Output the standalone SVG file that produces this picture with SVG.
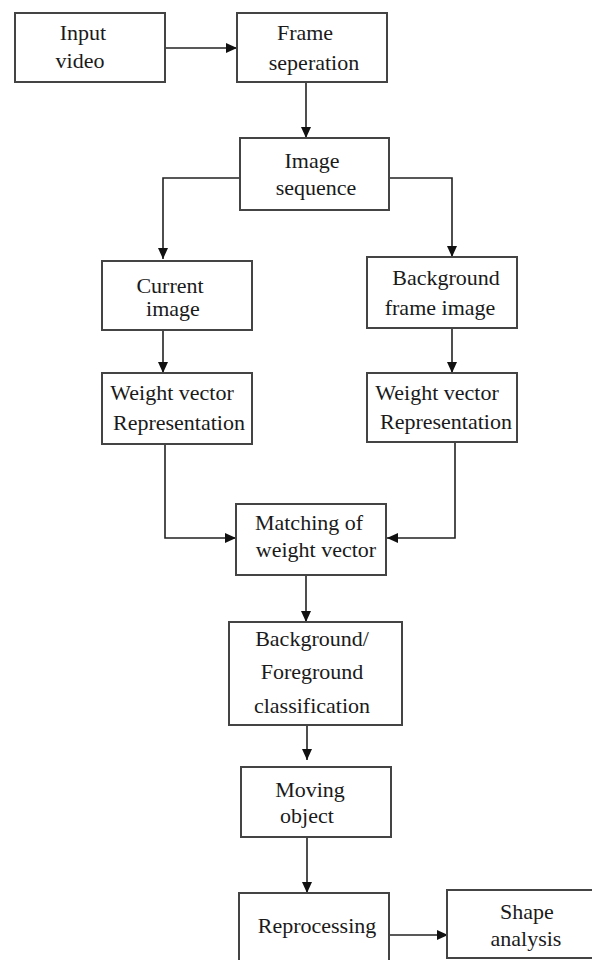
<svg xmlns="http://www.w3.org/2000/svg" width="592" height="960" viewBox="0 0 592 960">
<defs>
<marker id="ah" markerUnits="userSpaceOnUse" markerWidth="12" markerHeight="10" refX="11" refY="5" orient="auto">
<path d="M0,0 L11,5 L0,10 z" fill="#111"/>
</marker>
<style>
.box{fill:#fff;stroke:#444;stroke-width:2}
.t{font-family:"Liberation Serif","Times New Roman",serif;font-size:22px;fill:#1a1a1a;text-anchor:middle}
.c{fill:none;stroke:#222;stroke-width:1.6;marker-end:url(#ah)}
</style>
</defs>
<rect width="592" height="960" fill="#fff"/>
<g id="connectors">
<path class="c" d="M165,48 H237"/>
<path class="c" d="M306,82 V138"/>
<path class="c" d="M240,178 H163 V259"/>
<path class="c" d="M389,178 H452 V257"/>
<path class="c" d="M163,330 V373"/>
<path class="c" d="M452,328 V373"/>
<path class="c" d="M165,444 V538 H236"/>
<path class="c" d="M455,442 V538 H387"/>
<path class="c" d="M306,575 V622"/>
<path class="c" d="M307,725 V760"/>
<path class="c" d="M307,837 V893"/>
<path class="c" d="M389,935 H448"/>
</g>
<g id="input-video">
<rect class="box" x="15" y="13" width="150" height="69"/>
<text class="t" x="83" y="40">Input</text>
<text class="t" x="80" y="68">video</text>
</g>
<g id="frame-seperation">
<rect class="box" x="237" y="13" width="150" height="69"/>
<text class="t" x="305" y="40">Frame</text>
<text class="t" x="314" y="70">seperation</text>
</g>
<g id="image-sequence">
<rect class="box" x="240" y="138" width="149" height="72"/>
<text class="t" x="312" y="168">Image</text>
<text class="t" x="316" y="195">sequence</text>
</g>
<g id="current-image">
<rect class="box" x="102" y="261" width="150" height="69"/>
<text class="t" x="170" y="293">Current</text>
<text class="t" x="173" y="316">image</text>
</g>
<g id="background-frame-image">
<rect class="box" x="367" y="257" width="150" height="71"/>
<text class="t" x="446" y="285">Background</text>
<text class="t" x="440" y="315">frame image</text>
</g>
<g id="weight-vector-left">
<rect class="box" x="102" y="373" width="150" height="71"/>
<text class="t" x="172" y="400">Weight vector</text>
<text class="t" x="179" y="430">Representation</text>
</g>
<g id="weight-vector-right">
<rect class="box" x="367" y="373" width="150" height="69"/>
<text class="t" x="437" y="400">Weight vector</text>
<text class="t" x="446" y="429">Representation</text>
</g>
<g id="matching">
<rect class="box" x="236" y="504" width="150" height="71"/>
<text class="t" x="309" y="530">Matching of</text>
<text class="t" x="316" y="557">weight vector</text>
</g>
<g id="bg-fg-classification">
<rect class="box" x="229" y="622" width="173" height="103"/>
<text class="t" x="312" y="646">Background/</text>
<text class="t" x="312" y="679">Foreground</text>
<text class="t" x="312" y="713">classification</text>
</g>
<g id="moving-object">
<rect class="box" x="241" y="767" width="150" height="70"/>
<text class="t" x="310" y="797">Moving</text>
<text class="t" x="307" y="823">object</text>
</g>
<g id="reprocessing">
<rect class="box" x="239" y="893" width="150" height="75"/>
<text class="t" x="317" y="933">Reprocessing</text>
</g>
<g id="shape-analysis">
<rect class="box" x="447" y="890" width="160" height="68"/>
<text class="t" x="527" y="919">Shape</text>
<text class="t" x="526" y="946">analysis</text>
</g>
</svg>
